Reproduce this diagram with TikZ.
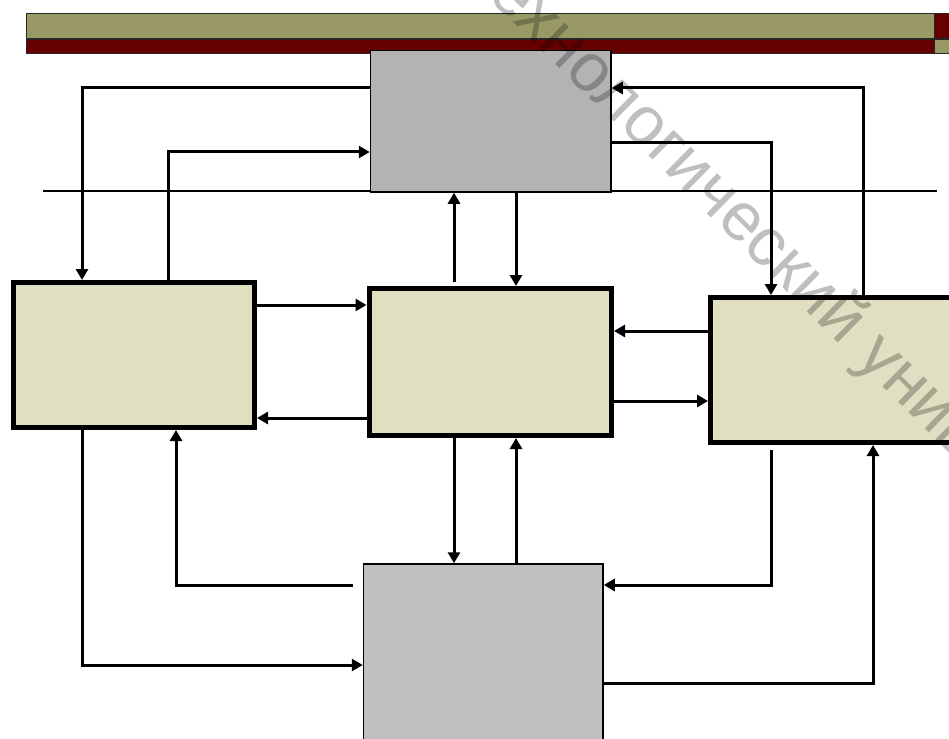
\documentclass[tikz,border=0pt]{standalone}
\usepackage{fontspec}
\newfontfamily\wmfont{Liberation Sans}
\usetikzlibrary{arrows.meta}
\definecolor{olivebar}{HTML}{999966}
\definecolor{darkredbar}{HTML}{660000}
\definecolor{beige}{HTML}{E0DFC2}
\definecolor{grayA}{HTML}{B3B3B3}
\definecolor{grayB}{HTML}{C0C0C0}
\begin{document}
\begin{tikzpicture}[x=1pt,y=-1pt,
  barbox/.style={draw=black!85, line width=1pt, inner sep=0pt, anchor=north west},
  graybox/.style={draw=black, line width=1.5pt, inner sep=0pt},
  beigebox/.style={draw=black, fill=beige, line width=5pt, inner sep=0pt},
  arr/.style={line width=3pt, -{Triangle[length=11pt,width=12pt]}},
  plain/.style={line width=3pt}]
\useasboundingbox (0,0) rectangle (949,738);
\clip (0,0) rectangle (949,738);
% top bars
\node[barbox, fill=olivebar, minimum width=908.5pt, minimum height=24.5pt] (bar1) at (25.5,13.5) {};
\node[barbox, fill=darkredbar, minimum width=908.5pt, minimum height=14pt] (bar2) at (25.5,39) {};
\node[barbox, fill=darkredbar, minimum width=25pt, minimum height=24.5pt] (bar3) at (934,13.5) {};
\node[barbox, fill=olivebar, minimum width=25pt, minimum height=14pt] (bar4) at (934,39) {};
% thin rule
\coordinate (ruleL) at (43,191);
\coordinate (ruleR) at (937,191);
\draw[line width=1.2pt] (ruleL) -- (ruleR);
% boxes
\node[graybox, fill=grayA, minimum width=240.5pt, minimum height=141.5pt] (A) at (490.75,121.25) {};
\node[beigebox, minimum width=241pt, minimum height=145pt] (L) at (134,355) {};
\node[beigebox, minimum width=242.5pt, minimum height=147pt] (C) at (490.25,362) {};
\node[beigebox, minimum width=240.5pt, minimum height=145pt] (R) at (830.75,370) {};
\node[graybox, fill=grayB, minimum width=239.5pt, minimum height=196pt] (B) at (483.25,662) {};
% helper coordinates
\coordinate (h88) at (0,88);
\coordinate (h143) at (0,143);
\coordinate (h152) at (0,152);
\coordinate (h305) at (0,305);
\coordinate (h418) at (0,418);
\coordinate (h331) at (0,331);
\coordinate (h401) at (0,401);
\coordinate (h585) at (0,585);
\coordinate (h665) at (0,665);
\coordinate (h683) at (0,683);
\coordinate (v82) at (82,0);
\coordinate (v168) at (168,0);
\coordinate (v176) at (176,0);
\coordinate (v454) at (454,0);
\coordinate (v516) at (516,0);
\coordinate (v771) at (771,0);
\coordinate (v863) at (863,0);
\coordinate (v873) at (873,0);
% connectors
\draw[arr] (A.west |- h88) -| (L.north -| v82);
\draw[arr] (L.north -| v168) |- (A.west |- h152);
\draw[arr] (R.north -| v863) |- (A.east |- h88);
\draw[arr] (A.east |- h143) -| (R.north -| v771);
\draw[arr, shorten <=4pt] (C.north -| v454) -- (A.south -| v454);
\draw[arr] (A.south -| v516) -- (C.north -| v516);
\draw[arr] (L.east |- h305) -- (C.west |- h305);
\draw[arr] (C.west |- h418) -- (L.east |- h418);
\draw[arr] (R.west |- h331) -- (C.east |- h331);
\draw[arr] (C.east |- h401) -- (R.west |- h401);
\draw[arr] (C.south -| v454) -- (B.north -| v454);
\draw[arr] (B.north -| v516) -- (C.south -| v516);
\draw[arr, shorten <=10pt] (B.west |- h585) -| (L.south -| v176);
\draw[arr] (L.south -| v82) |- (B.west |- h665);
\draw[arr, shorten <=5pt] (R.south -| v771) |- (B.east |- h585);
\draw[arr] (B.east |- h683) -| (R.south -| v873);
% watermark
\node[anchor=mid west, inner sep=0pt, rotate=-44.6, text=black, opacity=0.25,
      font=\wmfont\fontsize{68}{80}\selectfont] (wm) at (466.5,-26.7) {технологический университет};
\end{tikzpicture}
\end{document}
